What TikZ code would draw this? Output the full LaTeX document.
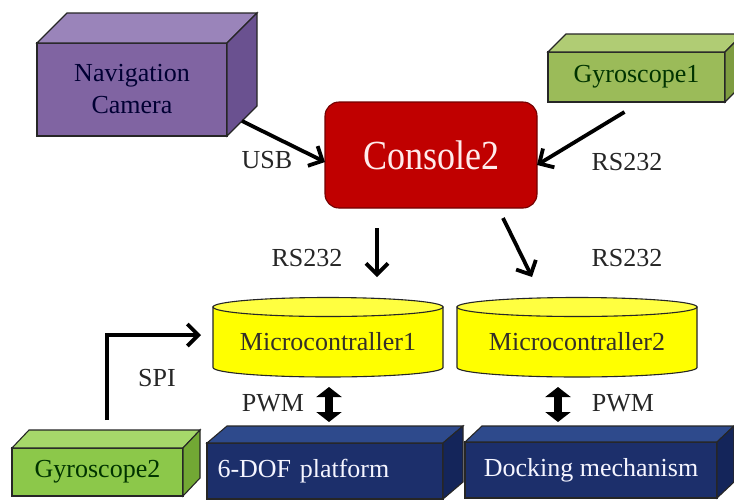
\documentclass[tikz,border=0pt]{standalone}
\usepackage{fontspec}
\setmainfont{Liberation Serif}
\usetikzlibrary{arrows.meta,backgrounds}

\definecolor{camfront}{HTML}{8064A2}
\definecolor{camtop}{HTML}{9A84BA}
\definecolor{camside}{HTML}{6A5190}
\definecolor{gyaf}{HTML}{9BBB59}
\definecolor{gyat}{HTML}{B0CC74}
\definecolor{gyas}{HTML}{7E9C40}
\definecolor{gybf}{HTML}{8CC84A}
\definecolor{gybt}{HTML}{A6D86A}
\definecolor{gybs}{HTML}{72A834}
\definecolor{navyf}{HTML}{1C2F6B}
\definecolor{navyt}{HTML}{2E4A8C}
\definecolor{navys}{HTML}{14255A}
\definecolor{consred}{HTML}{C00000}
\definecolor{mcyellow}{HTML}{FFFF00}
\definecolor{mctop}{HTML}{FFFF40}

\tikzset{
  edge/.style={draw=black!85, line width=1.1pt},
  lbl/.style={font=\fontsize{26}{28}\selectfont, text=black!85},
  face/.style={rectangle, edge, inner sep=0pt, outer sep=0pt, align=center,
               font=\fontsize{26}{32}\selectfont},
  arr/.style={line width=3.8pt, -{Straight Barb[length=11pt,width=22pt]}},
  dbl/.style={line width=8pt, {Triangle[length=10pt,width=25pt]}-{Triangle[length=10pt,width=25pt]}},
}

% top and right faces of a box whose front face is node #1
\newcommand{\boxfaces}[5]{%
  \draw[edge, fill=#4] (#1.north west) -- ++(#2,-#3) -- ([shift={(#2,-#3)}]#1.north east) -- (#1.north east) -- cycle;
  \draw[edge, fill=#5] (#1.north east) -- ++(#2,-#3) -- ([shift={(#2,-#3)}]#1.south east) -- (#1.south east) -- cycle;}

% cylinder body drawn round node #1
\newcommand{\drum}[2]{%
  \draw[edge, fill=mcyellow] (#1.north west) -- ([yshift=-60.5pt]#1.north west)
     arc[start angle=180, end angle=360, x radius=#2, y radius=9.5pt] -- (#1.north east) -- cycle;
  \draw[edge, fill=mctop] (#1.north) ellipse [x radius=#2, y radius=9.5pt];}

\begin{document}
\begin{tikzpicture}[x=1pt, y=-1pt]
\useasboundingbox (0,0) rectangle (734,499);
\clip (0,0) rectangle (734,499);

% boxes
\node[face, fill=camfront, text=black!80!blue, minimum width=190pt, minimum height=93pt] (cam) at (132,89.5) {Navigation\\Camera};
\boxfaces{cam}{30}{30}{camtop}{camside}

\node[face, fill=gyaf, text=black!80!green, minimum width=177pt, minimum height=50pt] (gyro1) at (636.5,77) {Gyroscope1};
\boxfaces{gyro1}{18}{18}{gyat}{gyas}

\node[face, fill=consred, draw=consred!60!black, rounded corners=14pt, text=red!8, font=\fontsize{36}{40}\selectfont,
      minimum width=212pt, minimum height=106pt] (con) at (431,155) {\scalebox{1}[1.15]{Console2}};

\node[rectangle, inner sep=0pt, outer sep=0pt, minimum width=230pt, minimum height=70pt,
      font=\fontsize{26}{28}\selectfont, text=black!85!olive] (mc1) at (328,342) {Microcontraller1};
\node[rectangle, inner sep=0pt, outer sep=0pt, minimum width=240pt, minimum height=70pt,
      font=\fontsize{26}{28}\selectfont, text=black!85!olive] (mc2) at (577,342) {Microcontraller2};
\begin{pgfonlayer}{background}
  \fill[white] (0,0) rectangle (734,499);
  \drum{mc1}{115pt}
  \drum{mc2}{120pt}
\end{pgfonlayer}

\node[face, fill=gybf, text=black!80!green, minimum width=171pt, minimum height=48pt] (gyro2) at (97.5,472) {Gyroscope2};
\boxfaces{gyro2}{17}{18}{gybt}{gybs}

\node[face, fill=navyf, text=blue!4, minimum height=56pt, text width=215pt, inner xsep=10.5pt, align=left] (dof) at (325,471) {6-DOF platform};
\boxfaces{dof}{20}{17}{navyt}{navys}

\node[face, fill=navyf, text=blue!4, minimum width=252pt, minimum height=56pt] (dock) at (591,470) {Docking mechanism};
\boxfaces{dock}{17}{16}{navyt}{navys}

% connectors
\draw[arr] ([shift={(15,-15)}]cam.south east) -- ([yshift=-7pt]con.west);
\draw[arr] ([shift={(-12,10)}]gyro1.south) -- ([yshift=-10pt]con.east);
\draw[arr] ([shift={(-54,20)}]con.south) -- ([shift={(49,-30)}]mc1.north);
\draw[arr] ([shift={(-34,10)}]con.south east) -- ([shift={(-45,-30)}]mc2.north);
\coordinate (spistart) at (107,420);
\draw[arr, shorten >=12pt] (spistart) |- ([yshift=7pt]mc1.west);
\coordinate (pwmleft) at ([xshift=1pt]mc1.south);
\coordinate (pwmright) at ([xshift=-19pt]mc2.south);
\draw[dbl, shorten <=10pt, shorten >=21pt] (pwmleft) -- (pwmleft |- dof.north);
\draw[dbl, shorten <=10pt, shorten >=20pt] (pwmright) -- (pwmright |- dock.north);

% link labels
\node[lbl] (usb) at (267,160) {USB};
\node[lbl] (rsa) at (627,162) {RS232};
\node[lbl] (rsb) at (307,258) {RS232};
\node[lbl] (rsc) at (627,258) {RS232};
\node[lbl] (spi) at (157,378) {SPI};
\node[lbl] (pwma) at (273,403) {PWM};
\node[lbl] (pwmb) at (623,403) {PWM};
\end{tikzpicture}
\end{document}
